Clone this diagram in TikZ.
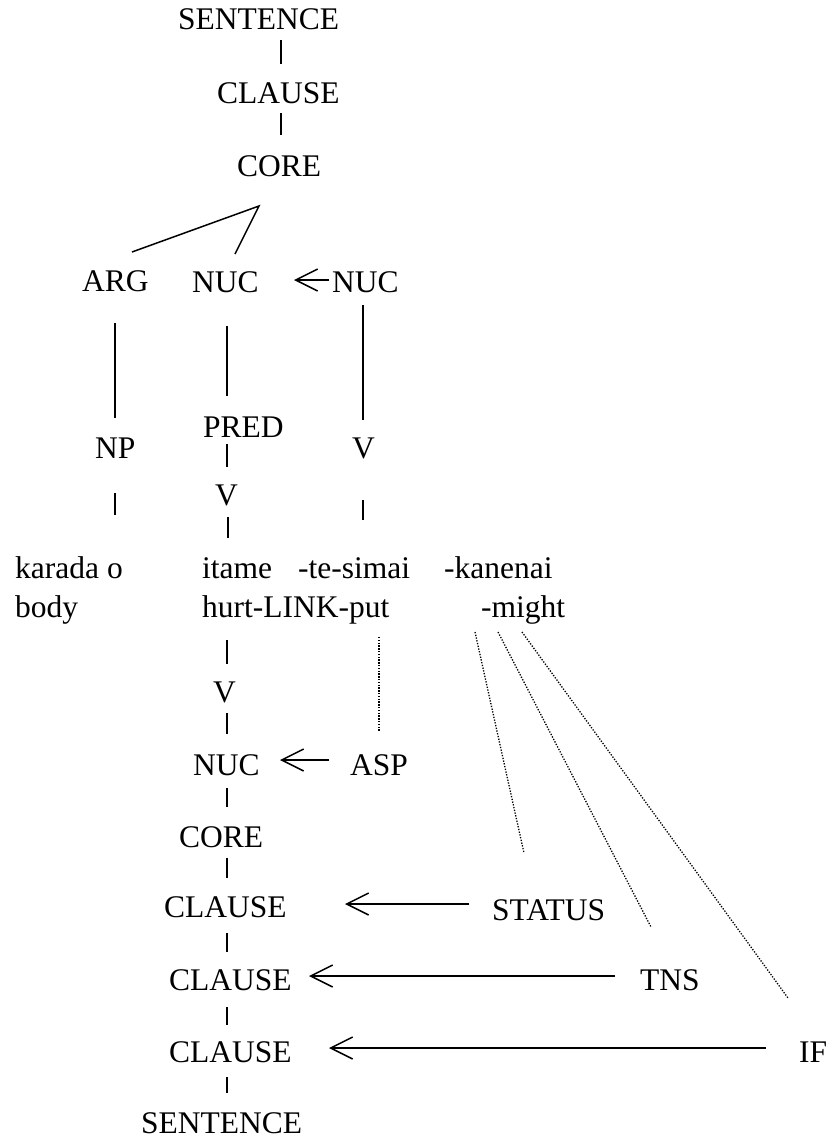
\documentclass[tikz,border=0pt]{standalone}
\usepackage{fontspec}
\setmainfont{Liberation Serif}
\usetikzlibrary{arrows.meta}
\begin{document}
\begin{tikzpicture}[x=1pt,y=-1pt,
  lbl/.style={anchor=base west,inner sep=0pt,font=\fontsize{31.5}{36}\selectfont},
  tree/.style={line width=1.5pt},
  arr/.style={line width=1.5pt,-{Straight Barb[length=22pt,width=22pt]}},
  dots/.style={line width=1.3pt,dash pattern=on 1.3pt off 1.5pt}]
\useasboundingbox (0,0) rectangle (828,1140);
\clip (0,0) rectangle (828,1140);
\fill[white] (0,0) rectangle (828,1140);

% upper tree
\node[lbl] (s1)  at (178,30)  {SENTENCE};
\node[lbl] (c1)  at (217,103) {CLAUSE};
\node[lbl] (co1) at (237,176) {CORE};
\node[lbl] (arg) at (82,291)  {ARG};
\node[lbl] (nuca) at (192,292) {NUC};
\node[lbl] (nucb) at (332,292) {NUC};
\node[lbl] (np)  at (95,458)  {NP};
\node[lbl] (pred) at (203,437) {PRED};
\node[lbl] (vb)  at (352,458) {V};
\node[lbl] (va)  at (215,505) {V};

% words and glosses
\node[lbl] (karada)  at (15,578)  {karada o};
\node[lbl] (body)    at (15,617)  {body};
\node[lbl] (itame)   at (202,578) {itame};
\node[lbl] (tesimai) at (298,578) {-te-simai};
\node[lbl] (kanenai) at (444,578) {-kanenai};
\node[lbl] (hurt)    at (202,617) {hurt-LINK-put};
\node[lbl] (might)   at (481,617) {-might};

% operator projection
\node[lbl] (vc)   at (213,702)  {V};
\node[lbl] (nucc) at (193,775)  {NUC};
\node[lbl] (asp)  at (350,775)  {ASP};
\node[lbl] (co2)  at (179,847)  {CORE};
\node[lbl] (cla)  at (164,917)  {CLAUSE};
\node[lbl] (status) at (492,920) {STATUS};
\node[lbl] (clb)  at (169,990)  {CLAUSE};
\node[lbl] (tns)  at (640,990)  {TNS};
\node[lbl] (clc)  at (169,1062) {CLAUSE};
\node[lbl] (ifo)  at (799,1062) {IF};
\node[lbl] (s2)   at (141,1133) {SENTENCE};

% connector end points
\coordinate (p1a) at (281,40);   \coordinate (p1b) at (281,64);
\coordinate (p2a) at (281,113);  \coordinate (p2b) at (281,135);
\coordinate (apex) at (259,206);
\coordinate (argT) at (132,252); \coordinate (nucT) at (235,254);
\coordinate (l1a) at (115,323);  \coordinate (l1b) at (115,418);
\coordinate (l2a) at (227,326);  \coordinate (l2b) at (227,396);
\coordinate (l3a) at (363,305);  \coordinate (l3b) at (363,420);
\coordinate (q1a) at (227,444);  \coordinate (q1b) at (227,467);
\coordinate (q2a) at (115,493);  \coordinate (q2b) at (115,515);
\coordinate (q3a) at (228,517);  \coordinate (q3b) at (228,538);
\coordinate (q4a) at (363,500);  \coordinate (q4b) at (363,520);
\coordinate (r1a) at (227,640);  \coordinate (r1b) at (227,664);
\coordinate (r2a) at (227,713);  \coordinate (r2b) at (227,734);
\coordinate (r3a) at (227,788);  \coordinate (r3b) at (227,807);
\coordinate (r4a) at (227,858);  \coordinate (r4b) at (227,878);
\coordinate (r5a) at (227,933);  \coordinate (r5b) at (227,952);
\coordinate (r6a) at (227,1007); \coordinate (r6b) at (227,1025);
\coordinate (r7a) at (227,1077); \coordinate (r7b) at (227,1093);

% tree lines
\draw[tree] (p1a) -- (p1b);
\draw[tree] (p2a) -- (p2b);
\draw[tree] (argT) -- (apex) -- (nucT);
\draw[tree] (l1a) -- (l1b);
\draw[tree] (l2a) -- (l2b);
\draw[tree] (l3a) -- (l3b);
\foreach \n in {q1,q2,q3,q4,r1,r2,r3,r4,r5,r6,r7}
  \draw[tree] (\n a) -- (\n b);

% arrows
\coordinate (a1t) at (329,280);  \coordinate (a1h) at (294,280);
\coordinate (a2t) at (329,760);  \coordinate (a2h) at (280,760);
\coordinate (a3t) at (469,904);  \coordinate (a3h) at (345,904);
\coordinate (a4t) at (615,976);  \coordinate (a4h) at (309,976);
\coordinate (a5t) at (766,1048); \coordinate (a5h) at (329,1048);
\draw[arr] (a1t) -- (a1h);
\draw[arr] (a2t) -- (a2h);
\draw[arr] (a3t) -- (a3h);
\draw[arr] (a4t) -- (a4h);
\draw[arr] (a5t) -- (a5h);

% dotted links from morphemes to operators
\coordinate (d0a) at (379,637); \coordinate (d0b) at (379,732);
\coordinate (d1a) at (475,632); \coordinate (d1b) at (524,853);
\coordinate (d2a) at (498,632); \coordinate (d2b) at (651,927);
\coordinate (d3a) at (522,632); \coordinate (d3b) at (788,998);
\draw[dots] (d0a) -- (d0b);
\draw[dots] (d1a) -- (d1b);
\draw[dots] (d2a) -- (d2b);
\draw[dots] (d3a) -- (d3b);
\end{tikzpicture}
\end{document}
